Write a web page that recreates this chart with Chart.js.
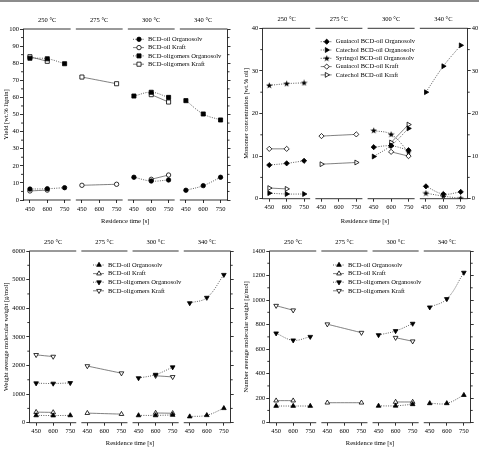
<!DOCTYPE html>
<html lang="en">
<head>
  <meta charset="UTF-8" />
  <title>BCD yields and molecular weights</title>
  <script src="https://cdn.jsdelivr.net/npm/chart.js"></script>
  <style>
    body { margin: 0; background: #fff; width: 479px; height: 450px; position: relative; overflow: hidden; }
    .topbar { position: absolute; left: 0; top: 0; width: 479px; height: 2px; background: #8c8c8c; }
    canvas { position: absolute; }
  </style>
</head>
<body>
  <div class="topbar"></div>
  <canvas id="c1" style="left:0;top:0" width="240" height="228"></canvas>
  <canvas id="c2" style="left:240px;top:0" width="239" height="228"></canvas>
  <canvas id="c3" style="left:0;top:228px" width="240" height="222"></canvas>
  <canvas id="c4" style="left:240px;top:228px" width="239" height="222"></canvas>

  <script>
    const temps = ['250 °C', '275 °C', '300 °C', '340 °C'];
    const times = [450, 600, 750];
    const n = null;

    // yield [wt.% lignin], 4 temperatures x 3 residence times
    const yOilOrg   = [6.4, 6.6, 7.2,   n, n, n,      13.3, 11.1, 11.7,  5.7, 8.4, 13.3];
    const yOilKraft = [5.3, 5.8, n,     8.6, n, 9.2,  n, 12.1, 14.6,     n, n, n];
    const yOligOrg  = [82.9, 82.6, 79.7, n, n, n,     60.8, 63.0, 60.0,  58.1, 50.3, 46.8];
    const yOligKraft= [83.8, 81.1, n,   71.9, n, 68.0, n, 61.6, 57.3,    n, n, n];

    // monomer concentration [wt.% oil]
    const guaOrg   = [7.9, 8.3, 8.9,    n, n, n,      12.1, 12.4, 11.4,  2.9, 1.1, 1.6];
    const catOrg   = [1.3, 1.1, 1.1,    n, n, n,      9.9, 12.5, 16.5,   25.0, 31.1, 36.0];
    const syrOrg   = [26.6, 27.0, 27.2, n, n, n,      16.0, 15.1, 11.0,  1.3, 0.6, 0.1];
    const guaKraft = [11.7, 11.7, n,    14.7, n, 15.1, n, 11.0, 10.0,    n, n, n];
    const catKraft = [2.5, 2.3, n,      8.1, n, 8.5,  n, 13.2, 17.4,     n, n, n];

    // Mw [g/mol]
    const mwOilOrg   = [255, 250, 255,    n, n, n,        255, 255, 270,     215, 260, 505];
    const mwOilKraft = [370, 360, n,      335, n, 300,    n, 340, 330,       n, n, n];
    const mwOligOrg  = [1380, 1370, 1390, n, n, n,        1560, 1680, 1940,  4180, 4370, 5170];
    const mwOligKraft= [2370, 2310, n,    1980, n, 1730,  n, 1640, 1600,     n, n, n];

    // Mn [g/mol]
    const mnOilOrg   = [136, 136, 136,  n, n, n,        137, 138, 150,   158, 158, 225];
    const mnOilKraft = [180, 180, n,    163, n, 163,    n, 169, 169,     n, n, n];
    const mnOligOrg  = [729, 672, 701,  n, n, n,        715, 748, 808,   941, 1009, 1224];
    const mnOligKraft= [954, 917, n,    803, n, 734,    n, 693, 664,     n, n, n];

    Chart.defaults.font.family = '"Liberation Serif", "DejaVu Serif", serif';
    Chart.defaults.font.size = 6.5;
    Chart.defaults.color = '#000';

    // filled star marker for syringol
    const star = document.createElement('canvas');
    star.width = 7; star.height = 7;
    (function () {
      const c = star.getContext('2d');
      c.fillStyle = '#000';
      c.beginPath();
      for (let k = 0; k < 10; k++) {
        const r = k % 2 ? 1.4 : 3.4;
        const a = -Math.PI / 2 + k * Math.PI / 5;
        c.lineTo(3.5 + r * Math.cos(a), 3.7 + r * Math.sin(a));
      }
      c.closePath();
      c.fill();
    })();

    // one point per value, a null break after every temperature block
    function pts(vals) {
      const out = [];
      for (let g = 0; g < 4; g++) {
        for (let i = 0; i < 3; i++) {
          const v = vals[g * 3 + i];
          if (v !== null) out.push({ x: g * 3 + i, y: v });
        }
        out.push({ x: g * 3 + 2.5, y: null });
      }
      return out;
    }

    function series(label, vals, style, filled, rot, r) {
      const dotted = label.indexOf('Organosolv') >= 0;
      return {
        label: label,
        data: pts(vals),
        borderColor: '#4a4a4a',
        borderWidth: dotted ? 0.9 : 0.7,
        borderDash: dotted ? [1, 1.4] : [],
        tension: 0.4,
        spanGaps: false,
        pointStyle: style,
        pointRotation: rot || 0,
        pointRadius: r || 2.4,
        pointHoverRadius: r || 2.4,
        pointBorderWidth: 0.8,
        pointBorderColor: '#000',
        pointBackgroundColor: filled ? '#000' : '#fff'
      };
    }

    const segs = [[-0.4, 2.35], [2.65, 5.35], [5.65, 8.35], [8.65, 11.4]];

    const framePlugin = {
      id: 'frame',
      afterDraw(chart, args, o) {
        const ctx = chart.ctx, a = chart.chartArea, xs = chart.scales.x, ys = chart.scales.y;
        ctx.save();
        ctx.strokeStyle = '#000';
        ctx.lineWidth = 0.8;
        // broken top and bottom axes
        segs.forEach(s => {
          const x0 = xs.getPixelForValue(s[0]), x1 = xs.getPixelForValue(s[1]);
          [a.top, a.bottom].forEach(yy => {
            ctx.beginPath(); ctx.moveTo(x0, yy); ctx.lineTo(x1, yy); ctx.stroke();
          });
        });
        // temperature headers
        ctx.fillStyle = '#000';
        ctx.font = '6.5px "Liberation Serif", serif';
        ctx.textAlign = 'center';
        ctx.textBaseline = 'middle';
        segs.forEach((s, g) => {
          const xc = xs.getPixelForValue(g * 3 + 1);
          ctx.fillText(temps[g], xc, a.top - 9);
        });
        // minor ticks on both y axes
        for (let v = ys.min + o.minor; v < ys.max; v += o.minor * 2) {
          const py = ys.getPixelForValue(v);
          ctx.beginPath();
          ctx.moveTo(a.left - 2, py); ctx.lineTo(a.left, py);
          ctx.moveTo(a.right, py); ctx.lineTo(a.right + 2, py);
          ctx.stroke();
        }
        // legend inside the plot
        ctx.textAlign = 'left';
        chart.data.datasets.forEach((d, i) => {
          const ly = o.ly + i * o.dy;
          ctx.save();
          ctx.strokeStyle = d.borderColor;
          ctx.lineWidth = d.borderWidth;
          ctx.setLineDash(d.borderDash);
          ctx.beginPath(); ctx.moveTo(o.lx - 6, ly); ctx.lineTo(o.lx + 5, ly); ctx.stroke();
          ctx.restore();
          ctx.fillStyle = d.pointBackgroundColor;
          ctx.strokeStyle = '#000';
          ctx.lineWidth = 0.8;
          Chart.helpers.drawPoint(ctx, {
            pointStyle: d.pointStyle, rotation: d.pointRotation,
            radius: d.pointRadius, borderWidth: 0.8
          }, o.lx, ly);
          ctx.fillStyle = '#000';
          ctx.fillText(d.label, o.tx, ly);
        });
        ctx.restore();
      }
    };

    function makeChart(id, c) {
      const axisLine = { display: true, color: '#000', width: 0.8 };
      const tickGrid = { display: true, drawOnChartArea: false, drawTicks: true, tickLength: 3, color: '#000', lineWidth: 0.8 };
      return new Chart(document.getElementById(id), {
        type: 'line',
        data: { datasets: c.datasets },
        options: {
          responsive: false,
          animation: false,
          events: [],
          layout: { padding: { top: c.top, right: c.padR, left: 0, bottom: 0 } },
          plugins: {
            legend: { display: false },
            tooltip: { enabled: false },
            frame: { minor: c.step / 2, lx: c.lx, tx: c.lx + 9, ly: c.ly, dy: c.dy }
          },
          scales: {
            x: {
              type: 'linear', min: -0.4, max: 11.4,
              afterBuildTicks: s => { s.ticks = times.concat(times, times, times).map((t, k) => ({ value: k })); },
              afterFit: s => { s.height = c.h; },
              ticks: { padding: 2, callback: v => times[Math.round(v) % 3] },
              grid: tickGrid,
              border: { display: false },
              title: { display: true, text: 'Residence time [s]', padding: { top: 0, bottom: 3 } }
            },
            y: {
              position: 'left', min: c.min, max: c.max,
              afterFit: s => { s.width = c.left; },
              ticks: { stepSize: c.step, padding: 1, callback: v => String(v) },
              grid: tickGrid,
              border: axisLine,
              title: { display: true, text: c.title, padding: { top: 2, bottom: 0 } }
            },
            y2: {
              position: 'right', min: c.min, max: c.max,
              afterFit: s => { s.width = c.w2; },
              ticks: { stepSize: c.step, padding: 1, display: !!c.rightLabels, callback: v => String(v) },
              grid: tickGrid,
              border: axisLine
            }
          }
        },
        plugins: [framePlugin]
      });
    }

    makeChart('c1', {
      title: 'Yield [wt.% lignin]', min: 0, max: 100, step: 10,
      top: 29, h: 28, left: 23, w2: 12, padR: 0.5,
      lx: 139, ly: 39.3, dy: 8.3,
      datasets: [
        series('BCD-oil Organosolv', yOilOrg, 'circle', true, 0, 2.2),
        series('BCD-oil Kraft', yOilKraft, 'circle', false, 0, 2.2),
        series('BCD-oligomers Organosolv', yOligOrg, 'rect', true, 0, 2.9),
        series('BCD-oligomers Kraft', yOligKraft, 'rect', false, 0, 2.9)
      ]
    });

    makeChart('c2', {
      title: 'Monomer concentration [wt.% oil]', min: 0, max: 40, step: 10,
      top: 28.3, h: 29.3, left: 22.3, w2: 11, padR: 0.3, rightLabels: true,
      lx: 86.7, ly: 41.7, dy: 8.3,
      datasets: [
        series('Guaiacol BCD-oil Organosolv', guaOrg, 'rectRot', true, 0, 2.6),
        series('Catechol BCD-oil Organosolv', catOrg, 'triangle', true, 90, 2.8),
        series('Syringol BCD-oil Organosolv', syrOrg, star, true, 0, 2.6),
        series('Guaiacol BCD-oil Kraft', guaKraft, 'rectRot', false, 0, 2.6),
        series('Catechol BCD-oil Kraft', catKraft, 'triangle', false, 90, 2.8)
      ]
    });

    makeChart('c3', {
      title: 'Weight average molecular weight [g/mol]', min: 0, max: 6000, step: 1000,
      top: 23, h: 27.3, left: 29.3, w2: 9, padR: 0.3,
      lx: 99, ly: 37, dy: 8.6,
      datasets: [
        series('BCD-oil Organosolv', mwOilOrg, 'triangle', true, 0, 2.7),
        series('BCD-oil Kraft', mwOilKraft, 'triangle', false, 0, 2.7),
        series('BCD-oligomers Organosolv', mwOligOrg, 'triangle', true, 180, 2.7),
        series('BCD-oligomers Kraft', mwOligKraft, 'triangle', false, 180, 2.7)
      ]
    });

    makeChart('c4', {
      title: 'Number average molecular weight [g/mol]', min: 0, max: 1400, step: 200,
      top: 23, h: 27.3, left: 29.3, w2: 8, padR: 0.3,
      lx: 99, ly: 37, dy: 8.6,
      datasets: [
        series('BCD-oil Organosolv', mnOilOrg, 'triangle', true, 0, 2.7),
        series('BCD-oil Kraft', mnOilKraft, 'triangle', false, 0, 2.7),
        series('BCD-oligomers Organosolv', mnOligOrg, 'triangle', true, 180, 2.7),
        series('BCD-oligomers Kraft', mnOligKraft, 'triangle', false, 180, 2.7)
      ]
    });
  </script>
</body>
</html>
